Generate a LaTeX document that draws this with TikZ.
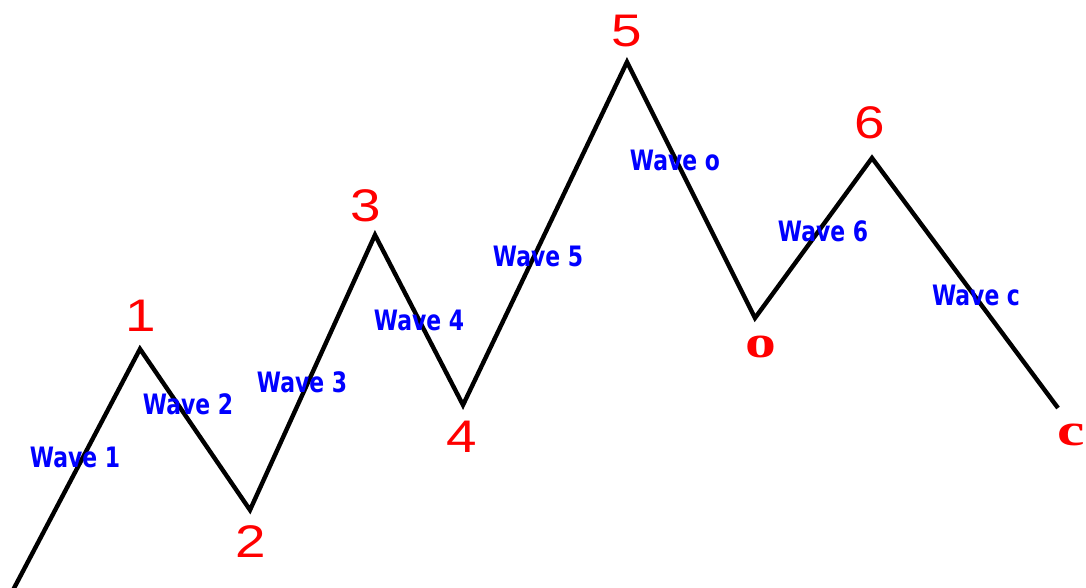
\documentclass[tikz,border=0pt]{standalone}
\usepackage{fontspec}
\setmainfont{Liberation Sans}
\newfontfamily\letterfont{Liberation Serif}
\newfontfamily\wavefont{DejaVu Sans}
\tikzset{
  peak/.style={text=red,inner sep=0pt,xscale=1.2,font=\fontsize{26}{26}\selectfont},
  turn/.style={text=red,inner sep=0pt,xscale=1.35,font=\letterfont\bfseries\fontsize{26}{26}\selectfont},
  wavelabel/.style={text=blue,inner sep=0pt,xscale=0.78,font=\wavefont\bfseries\fontsize{16}{16}\selectfont}
}
\begin{document}
\begin{tikzpicture}[x=0.02cm,y=-0.02cm,line width=2.5pt]
  \useasboundingbox (0,0) rectangle (1086,588);
  % turning points of the wave
  \coordinate (s) at (12,592);
  \coordinate (p1) at (140,349);
  \coordinate (p2) at (250,510);
  \coordinate (p3) at (375,235);
  \coordinate (p4) at (463,405);
  \coordinate (p5) at (627,62);
  \coordinate (po) at (755,318);
  \coordinate (p6) at (872,158);
  \coordinate (pc) at (1058,408);
  \draw (s)--(p1)--(p2)--(p3)--(p4)--(p5)--(po)--(p6)--(pc);
  % point labels
  \foreach \n/\x/\y in {1/141/316,2/251/542,3/366/206,4/462/437,5/627/31,6/870/123}
  {
    \node[peak] (l\n) at (\x,\y) {\n};
  }
  \node[turn] (lo) at (761,347) {o};
  \node[turn] (lc) at (1071,435) {c};
  % wave labels
  \foreach \n/\x/\y in {1/75/457,2/188/404,3/302/382,4/419/320,5/538/256,o/675/160,6/823/231,c/976/295}
  {
    \node[wavelabel] (w\n) at (\x,\y) {Wave \n};
  }
\end{tikzpicture}
\end{document}
